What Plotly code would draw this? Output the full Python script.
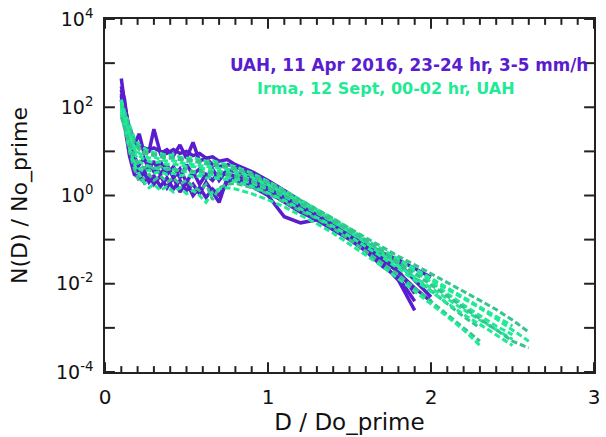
import plotly.graph_objects as go

# Shared D/Do_prime sample positions
d_ratio = [0.10, 0.12, 0.15, 0.18, 0.21, 0.24, 0.27, 0.30, 0.34, 0.38,
           0.42, 0.46, 0.50, 0.54, 0.58, 0.62, 0.66, 0.70, 0.75, 0.80,
           0.90, 1.00, 1.10, 1.20, 1.30, 1.40, 1.50, 1.60, 1.70, 1.80,
           1.90, 2.00, 2.10, 2.20, 2.30, 2.40, 2.50, 2.60]

# UAH, 11 Apr 2016 spectra (N(D)/No_prime)
uah_1 = [450, 120, 30, 14, 25, 9, 10, 32, 9, 11, 8, 14, 7, 16, 6, 7, 5, 4.5, 5, 4.5,
         3.0, 1.8, 1.1, 0.62, 0.38, 0.22, 0.12, 0.07, 0.035, 0.018, 0.008, 0.004]
uah_2 = [200, 90, 35, 18, 14, 12, 11, 12, 10, 9, 11, 9, 10, 8, 9, 7, 7.5, 6, 6.5, 5,
         3.5, 2.2, 1.3, 0.75, 0.45, 0.26, 0.15, 0.085, 0.05, 0.035, 0.022, 0.014]
uah_3 = [150, 40, 8, 3, 2.5, 3.5, 2, 2.8, 1.6, 2.5, 1.4, 2.2, 1.3, 1.8, 1.1, 2.0, 1.2, 0.7, 2.5, 2.2,
         1.6, 1.0, 0.33, 0.24, 0.28, 0.2, 0.11, 0.06, 0.03, 0.012, 0.0025]
uah_4 = [300, 150, 20, 6, 5, 7, 4, 6, 3, 5, 2.5, 4, 2, 3.5, 1.8, 3, 2.2, 3.5, 3, 2.8,
         2.0, 1.3, 0.8, 0.5, 0.32, 0.2, 0.12, 0.065, 0.04, 0.02, 0.006]
uah_5 = [250, 100, 25, 8, 4, 3, 5, 3.5, 6, 3, 4.5, 2.5, 5, 3, 4, 2.5, 4, 2.2, 3.8, 3.5,
         2.4, 1.5, 0.9, 0.55, 0.36, 0.24, 0.14, 0.08, 0.05, 0.03, 0.012, 0.005]
uah_6 = [180, 60, 15, 5, 3, 2, 3, 1.8, 2.8, 1.5, 2.6, 1.2, 2.0, 1.0, 1.5, 0.9, 1.4, 1.0, 2.0, 2.5,
         1.9, 1.2, 0.7, 0.42, 0.28, 0.17, 0.1, 0.055, 0.025, 0.014, 0.004]

# Irma, 12 Sept spectra (N(D)/No_prime)
irma_1 = [120, 70, 30, 15, 11, 9, 8.5, 8, 7.5, 7, 7, 6.5, 6, 6, 5.5, 5.2, 5, 4.6, 4.2, 3.8,
          2.8, 1.9, 1.2, 0.75, 0.46, 0.28, 0.16, 0.09, 0.05, 0.027, 0.014, 0.007, 0.0035, 0.0018, 0.001]
irma_2 = [90, 45, 18, 9, 6, 5, 4.5, 4.2, 4, 4.2, 3.8, 3.6, 3.5, 3.3, 3.2, 3.0, 2.9, 2.8, 2.6, 2.4,
          1.9, 1.4, 0.95, 0.62, 0.4, 0.25, 0.15, 0.09, 0.055, 0.032, 0.019, 0.011, 0.006, 0.0033, 0.0019, 0.0011, 7e-4]
irma_3 = [150, 80, 40, 20, 14, 12, 10, 9.5, 9, 8, 8.5, 7.5, 7, 7.2, 6.5, 6, 6.2, 5.5, 5, 4.5,
          3.2, 2.1, 1.3, 0.8, 0.5, 0.3, 0.18, 0.1, 0.06, 0.035, 0.02, 0.012, 0.0075, 0.0045, 0.0028, 0.0016, 9e-4, 5e-4]
irma_4 = [70, 30, 10, 4, 2, 2.5, 3, 2.2, 2.8, 2.0, 2.5, 1.8, 2.2, 1.6, 1.3, 1.8, 0.8, 1.5, 1.8, 1.9,
          1.5, 1.1, 0.7, 0.45, 0.3, 0.18, 0.1, 0.055, 0.03, 0.016, 0.008, 0.004, 0.002, 0.001, 5e-4]
irma_5 = [110, 55, 22, 11, 8, 6.5, 6, 5.5, 5.8, 5, 5.2, 4.8, 4.5, 4.6, 4.2, 4, 3.8, 3.6, 3.4, 3.1,
          2.3, 1.6, 1.05, 0.68, 0.43, 0.27, 0.165, 0.1, 0.06, 0.036, 0.022, 0.013, 0.008, 0.005, 0.003, 0.0018, 0.0011]
irma_6 = [100, 50, 15, 6, 4, 3.5, 3.8, 3.2, 3.5, 3, 3.2, 2.8, 3.0, 2.6, 2.8, 2.5, 2.6, 2.4, 2.3, 2.1,
          1.6, 1.15, 0.78, 0.5, 0.32, 0.2, 0.12, 0.07, 0.04, 0.022, 0.012, 0.0065, 0.0035, 0.002, 0.0012, 7e-4, 4e-4]
irma_7 = [130, 75, 35, 17, 12, 10, 9, 8.5, 8, 7.5, 7.2, 7, 6.5, 6.3, 6, 5.7, 5.4, 5.0, 4.6, 4.1,
          3.0, 2.0, 1.25, 0.78, 0.48, 0.3, 0.18, 0.11, 0.068, 0.042, 0.027, 0.017, 0.011, 0.0068, 0.0042, 0.0026, 0.0015, 8e-4]
irma_8 = [80, 40, 12, 5, 3, 2, 1.5, 1.8, 1.3, 1.6, 1.2, 1.5, 1.1, 1.3, 1.0, 0.7, 1.2, 1.4, 1.5, 1.4,
          1.1, 0.8, 0.55, 0.36, 0.23, 0.14, 0.08, 0.045, 0.025, 0.013, 0.0068, 0.0035, 0.0018, 9e-4, 4e-4]
irma_9 = [140, 60, 25, 13, 9, 8, 7, 7.5, 6.5, 6, 6.2, 5.5, 5.2, 5, 4.8, 4.6, 4.4, 4.2, 3.9, 3.5,
          2.6, 1.75, 1.1, 0.7, 0.44, 0.26, 0.15, 0.085, 0.046, 0.025, 0.014, 0.008, 0.0045, 0.0026, 0.0015, 9e-4, 5.5e-4]
irma_10 = [60, 35, 14, 7, 5, 4.2, 4.8, 4, 4.5, 3.8, 4.2, 3.5, 4, 3.5, 3.6, 3.3, 3.4, 3.1, 3.0, 2.8,
           2.1, 1.5, 1.0, 0.65, 0.42, 0.26, 0.16, 0.095, 0.055, 0.03, 0.017, 0.0095, 0.0052, 0.0029, 0.0016, 9e-4, 5e-4, 3.5e-4]

uah_series = [uah_1, uah_2, uah_3, uah_4, uah_5, uah_6]
irma_series = [irma_1, irma_2, irma_3, irma_4, irma_5, irma_6, irma_7, irma_8, irma_9, irma_10]

# Axis ticks
y_tick_vals = [1e-4, 1e-2, 1, 1e2, 1e4]
y_tick_text = ["10<sup>-4</sup>", "10<sup>-2</sup>", "10<sup>0</sup>", "10<sup>2</sup>", "10<sup>4</sup>"]
y_decade_exponents = [-4, -3, -2, -1, 0, 1, 2, 3, 4]
x_tick_vals = [0, 1, 2, 3]
x_minor_step = 0.1

label_uah = "UAH, 11 Apr 2016, 23-24 hr, 3-5 mm/h"
label_irma = "Irma, 12 Sept, 00-02 hr, UAH"

PURPLE = "#5A1CCF"
GREEN_A = "#1FEA96"
GREEN_B = "#36C38E"
AX = "#222222"
font_main = "DejaVu Sans"

W, H = 606, 437
M = dict(l=105, r=6, t=12, b=63)
plot_w = W - M["l"] - M["r"]
plot_h = H - M["t"] - M["b"]
X_RANGE = [0, 3]
Y_LOG_RANGE = [-4, 4]

fig = go.Figure()
for s in uah_series:
    fig.add_trace(go.Scatter(x=d_ratio[:len(s)], y=s, mode="lines",
                             line=dict(color=PURPLE, width=3.5), showlegend=False))
for i, s in enumerate(irma_series):
    fig.add_trace(go.Scatter(x=d_ratio[:len(s)], y=s, mode="lines",
                             line=dict(color=GREEN_A if i % 3 else GREEN_B, width=3, dash="6px,3px"),
                             showlegend=False))

# Inside tick marks on all four sides, drawn through the axes' own scales
major_len, minor_len = 10, 6
px_per_decade = plot_h / (Y_LOG_RANGE[1] - Y_LOG_RANGE[0])
x_units_per_px = (X_RANGE[1] - X_RANGE[0]) / plot_w
x_minor = [k * x_minor_step for k in range(1, 30) if k % 10]
tick_x, tick_y = [], []
for xv, ln in [(v, major_len) for v in x_tick_vals] + [(v, minor_len) for v in x_minor]:
    d = ln / px_per_decade
    tick_x += [xv, xv, None, xv, xv, None]
    tick_y += [10.0 ** Y_LOG_RANGE[0], 10.0 ** (Y_LOG_RANGE[0] + d), None,
               10.0 ** Y_LOG_RANGE[1], 10.0 ** (Y_LOG_RANGE[1] - d), None]
for e in y_decade_exponents:
    yv = 10.0 ** e
    dx = major_len * x_units_per_px
    tick_x += [X_RANGE[0], X_RANGE[0] + dx, None, X_RANGE[1], X_RANGE[1] - dx, None]
    tick_y += [yv, yv, None, yv, yv, None]
fig.add_trace(go.Scatter(x=tick_x, y=tick_y, mode="lines", line=dict(color=AX, width=2),
                         connectgaps=False, hoverinfo="skip", showlegend=False))

fig.update_xaxes(range=X_RANGE, tickmode="array", tickvals=x_tick_vals, ticks="",
                 showline=True, linecolor=AX, linewidth=1.5, mirror=True,
                 showgrid=False, zeroline=False, ticklabelstandoff=6,
                 tickfont=dict(family=font_main, size=20, color="#111"),
                 title=dict(text="D / Do_prime", font=dict(family=font_main, size=23, color="#111"), standoff=6))
fig.update_yaxes(type="log", range=[Y_LOG_RANGE[0] - 0.0005, Y_LOG_RANGE[1] + 0.0005],
                 tickmode="array", tickvals=y_tick_vals, ticktext=y_tick_text,
                 ticks="", showline=True, linecolor=AX, linewidth=1.5, mirror=True,
                 showgrid=False, zeroline=False, ticklabeloverflow="allow", ticklabelstandoff=6,
                 tickfont=dict(family=font_main, size=19, color="#111"),
                 title=dict(text="N(D) / No_prime", font=dict(family=font_main, size=22, color="#111"), standoff=22))

fig.add_annotation(x=0.992, y=0.871, xref="paper", yref="paper", xanchor="right", yanchor="middle",
                   text="<b>" + label_uah + "</b>", showarrow=False,
                   font=dict(family=font_main, size=16.8, color=PURPLE))
fig.add_annotation(x=0.575, y=0.802, xref="paper", yref="paper", xanchor="center", yanchor="middle",
                   text="<b>" + label_irma + "</b>", showarrow=False,
                   font=dict(family=font_main, size=16, color=GREEN_A))

fig.update_layout(width=W, height=H, margin=M, paper_bgcolor="white", plot_bgcolor="white")

fig.write_html("out.html")
